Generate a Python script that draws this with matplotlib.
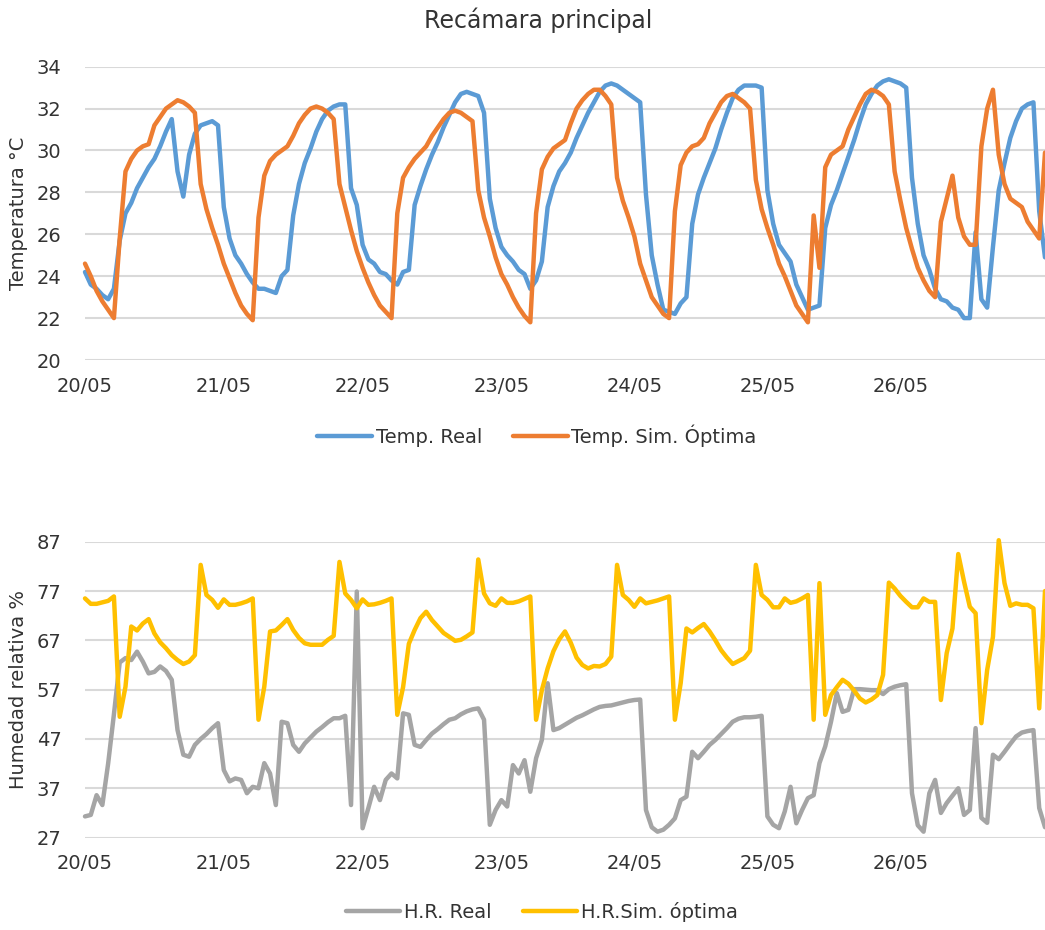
import matplotlib
matplotlib.use("Agg")
import matplotlib.pyplot as plt

# hourly readings, 20/05 00:00 onwards
temp_real = [
    24.2, 23.6, 23.4, 23.1, 22.9, 23.4, 25.7, 27.0, 27.5, 28.2, 28.7, 29.2,
    29.6, 30.2, 30.9, 31.5, 29.0, 27.8, 29.8, 30.8, 31.2, 31.3, 31.4, 31.2,
    27.3, 25.8, 25.0, 24.6, 24.1, 23.7, 23.4, 23.4, 23.3, 23.2, 24.0, 24.3,
    26.9, 28.4, 29.4, 30.1, 30.9, 31.5, 31.9, 32.1, 32.2, 32.2, 28.2, 27.4,
    25.5, 24.8, 24.6, 24.2, 24.1, 23.8, 23.6, 24.2, 24.3, 27.4, 28.3, 29.1,
    29.8, 30.4, 31.1, 31.7, 32.3, 32.7, 32.8, 32.7, 32.6, 31.8, 27.7, 26.3,
    25.4, 25.0, 24.7, 24.3, 24.1, 23.4, 23.8, 24.7, 27.3, 28.3, 29.0, 29.4,
    29.9, 30.6, 31.2, 31.8, 32.3, 32.8, 33.1, 33.2, 33.1, 32.9, 32.7, 32.5,
    32.3, 27.9, 25.0, 23.6, 22.4, 22.3, 22.2, 22.7, 23.0, 26.5, 27.9, 28.7,
    29.4, 30.1, 31.0, 31.8, 32.5, 32.9, 33.1, 33.1, 33.1, 33.0, 28.1, 26.5,
    25.5, 25.1, 24.7, 23.6, 23.0, 22.4, 22.5, 22.6, 26.3, 27.4, 28.1, 28.9,
    29.7, 30.5, 31.4, 32.2, 32.7, 33.1, 33.3, 33.4, 33.3, 33.2, 33.0, 28.7,
    26.5, 25.0, 24.3, 23.4, 22.9, 22.8, 22.5, 22.4, 22.0, 22.0, 26.1, 22.9,
    22.5, 25.4, 28.1, 29.4, 30.6, 31.4, 32.0, 32.2, 32.3, 27.1, 24.9,
]
temp_sim = [
    24.6, 24.0, 23.3, 22.8, 22.4, 22.0, 25.8, 29.0, 29.6, 30.0, 30.2, 30.3,
    31.2, 31.6, 32.0, 32.2, 32.4, 32.3, 32.1, 31.8, 28.4, 27.2, 26.3, 25.5,
    24.6, 23.9, 23.2, 22.6, 22.2, 21.9, 26.8, 28.8, 29.5, 29.8, 30.0, 30.2,
    30.7, 31.3, 31.7, 32.0, 32.1, 32.0, 31.8, 31.5, 28.4, 27.3, 26.2, 25.2,
    24.4, 23.7, 23.1, 22.6, 22.3, 22.0, 27.0, 28.7, 29.2, 29.6, 29.9, 30.2,
    30.7, 31.1, 31.5, 31.8, 31.9, 31.8, 31.6, 31.4, 28.1, 26.8, 25.9, 24.9,
    24.1, 23.6, 23.0, 22.5, 22.1, 21.8, 27.0, 29.1, 29.7, 30.1, 30.3, 30.5,
    31.3, 32.0, 32.4, 32.7, 32.9, 32.9, 32.6, 32.2, 28.7, 27.6, 26.8, 25.9,
    24.6, 23.8, 23.0, 22.6, 22.2, 22.0, 27.1, 29.3, 29.9, 30.2, 30.3, 30.6,
    31.3, 31.8, 32.3, 32.6, 32.7, 32.5, 32.3, 32.0, 28.6, 27.2, 26.3, 25.5,
    24.6, 24.0, 23.3, 22.6, 22.2, 21.8, 26.9, 24.4, 29.2, 29.8, 30.0, 30.2,
    31.0, 31.6, 32.2, 32.7, 32.9, 32.8, 32.6, 32.2, 29.0, 27.6, 26.3, 25.3,
    24.4, 23.8, 23.3, 23.0, 26.6, 27.7, 28.8, 26.8, 25.9, 25.5, 25.5, 30.2,
    32.0, 32.9, 29.8, 28.4, 27.7, 27.5, 27.3, 26.6, 26.2, 25.8, 29.9,
]
hr_real = [
    31.3, 31.6, 35.6, 33.6, 42.0, 52.0, 62.5, 63.4, 63.0, 64.7, 62.7, 60.3,
    60.6, 61.7, 60.8, 59.0, 48.8, 43.8, 43.4, 45.8, 47.0, 48.0, 49.2, 50.2,
    40.7, 38.4, 39.0, 38.7, 36.0, 37.3, 37.0, 42.1, 40.0, 33.6, 50.5, 50.2,
    45.8, 44.4, 46.1, 47.3, 48.5, 49.4, 50.4, 51.2, 51.2, 51.7, 33.6, 76.9,
    28.9, 33.0, 37.3, 34.6, 38.7, 40.0, 39.0, 52.2, 51.9, 45.8, 45.4, 46.8,
    48.1, 49.0, 50.0, 50.9, 51.2, 52.0, 52.6, 53.0, 53.2, 50.9, 29.6, 32.6,
    34.6, 33.3, 41.7, 40.0, 42.7, 36.3, 43.1, 46.8, 58.3, 48.8, 49.2, 49.9,
    50.6, 51.3, 51.8, 52.4, 53.0, 53.5, 53.7, 53.8, 54.1, 54.4, 54.7, 54.9,
    55.0, 32.6, 29.1, 28.2, 28.6, 29.6, 30.9, 34.6, 35.3, 44.4, 43.1, 44.4,
    45.8, 46.8, 48.0, 49.2, 50.5, 51.1, 51.4, 51.4, 51.5, 51.7, 31.3, 29.6,
    28.9, 32.3, 37.3, 29.9, 32.6, 35.0, 35.6, 42.1, 45.5, 50.5, 56.3, 52.5,
    52.9, 57.1, 57.1, 57.0, 56.9, 56.9, 56.1, 57.1, 57.6, 57.9, 58.1, 36.0,
    29.5, 28.2, 36.0, 38.7, 32.0, 34.0, 35.5, 37.0, 31.6, 32.6, 49.2, 31.0,
    30.0, 43.8, 42.9, 44.4, 46.0, 47.5, 48.3, 48.6, 48.8, 33.0, 29.1,
]
hr_sim = [
    75.5, 74.4, 74.4, 74.7, 75.0, 75.9, 51.5, 57.6, 69.8, 69.0, 70.4, 71.3,
    68.4, 66.6, 65.4, 64.0, 63.0, 62.2, 62.7, 64.0, 82.3, 76.2, 75.2, 73.6,
    75.3, 74.2, 74.2, 74.5, 74.9, 75.5, 50.9, 57.6, 68.8, 69.0, 70.1, 71.3,
    69.1, 67.5, 66.4, 66.1, 66.1, 66.1, 67.1, 67.9, 82.9, 76.5, 75.2, 73.5,
    75.3, 74.2, 74.3, 74.6, 75.0, 75.5, 51.9, 57.5, 66.3, 69.1, 71.5, 72.8,
    71.1, 69.8, 68.5, 67.7, 66.9, 67.1, 67.8, 68.6, 83.4, 76.5, 74.5, 74.0,
    75.5, 74.6, 74.6, 74.9, 75.4, 75.9, 50.9, 56.9, 61.3, 64.8, 67.2, 68.8,
    66.5, 63.5, 62.0, 61.3, 61.8, 61.7, 62.2, 63.7, 82.3, 76.2, 75.2, 73.8,
    75.5, 74.5, 74.8, 75.1, 75.5, 75.9, 50.9, 58.3, 69.4, 68.6, 69.5, 70.3,
    68.8, 67.0, 65.0, 63.5, 62.2, 62.8, 63.4, 64.9, 82.3, 76.2, 75.2, 73.7,
    73.7, 75.5, 74.6, 74.9, 75.5, 76.2, 50.9, 78.6, 51.9, 55.9, 57.5, 59.0,
    58.2, 56.8, 55.2, 54.4, 55.0, 55.9, 60.0, 78.7, 77.5, 76.0, 74.8, 73.7,
    73.7, 75.5, 74.8, 74.8, 54.9, 64.4, 69.4, 84.5, 78.9, 73.8, 72.5, 50.2,
    61.0, 67.7, 87.3, 78.6, 74.0, 74.5, 74.2, 74.2, 73.5, 53.2, 77.0,
]

day_ticks = [0, 24, 48, 72, 95, 118, 141]
day_labels = ["20/05", "21/05", "22/05", "23/05", "24/05", "25/05", "26/05"]

TXT = "#333333"
GRID = "#D9D9D9"
LW = 3.2

plt.rcParams["font.family"] = ["DejaVu Sans"]

W, H = 1045, 930
fig = plt.figure(figsize=(W / 100, H / 100), dpi=100)

x0, x1 = 85, 1045


def make_axes(top_px, bottom_px):
    return fig.add_axes([x0 / W, 1 - bottom_px / H, (x1 - x0) / W, (bottom_px - top_px) / H])


def style(ax, ymin, ymax, step, ylabel):
    ax.set_xlim(0, len(temp_real) - 1)
    ax.set_ylim(ymin, ymax)
    ax.set_yticks(range(ymin, ymax + 1, step))
    ax.set_xticks(day_ticks)
    ax.set_xticklabels(day_labels)
    for s in ax.spines.values():
        s.set_visible(False)
    ax.grid(axis="y", color=GRID, lw=1.5)
    ax.set_axisbelow(True)
    ax.tick_params(axis="both", length=0, labelsize=14, labelcolor=TXT)
    ax.tick_params(axis="y", pad=17)
    ax.tick_params(axis="x", pad=12)
    ax.set_ylabel(ylabel, fontsize=14, color=TXT)
    ax.yaxis.set_label_coords(-0.059, 0.5)


hours = list(range(len(temp_real)))
line_kw = dict(lw=LW, solid_joinstyle="round", solid_capstyle="round", clip_on=False)

# temperature panel
ax1 = make_axes(66.7, 360)
ax1.plot(hours, temp_real, color="#5B9BD5", label="Temp. Real", **line_kw)
ax1.plot(hours, temp_sim, color="#ED7D31", label="Temp. Sim. Óptima", **line_kw)
style(ax1, 20, 34, 2, "Temperatura °C")
fig.legend(*ax1.get_legend_handles_labels(), loc="center", ncol=2,
           bbox_to_anchor=(537 / W, 1 - 436 / H), frameon=False, fontsize=14,
           handlelength=2.8, handletextpad=0.2, columnspacing=1.6, labelcolor=TXT)

# humidity panel
ax2 = make_axes(541.7, 837.6)
ax2.plot(hours, hr_real, color="#A5A5A5", label="H.R. Real", **line_kw)
ax2.plot(hours, hr_sim, color="#FFC000", label="H.R.Sim. óptima", **line_kw)
style(ax2, 27, 87, 10, "Humedad relativa %")
fig.legend(*ax2.get_legend_handles_labels(), loc="center", ncol=2,
           bbox_to_anchor=(542 / W, 1 - 912 / H), frameon=False, fontsize=14,
           handlelength=2.8, handletextpad=0.2, columnspacing=1.6, labelcolor=TXT)

fig.text(538 / W, 1 - 20 / H, "Recámara principal", ha="center", va="center",
         fontsize=17, color=TXT)

fig.savefig("out.png", dpi=100, facecolor="white")
